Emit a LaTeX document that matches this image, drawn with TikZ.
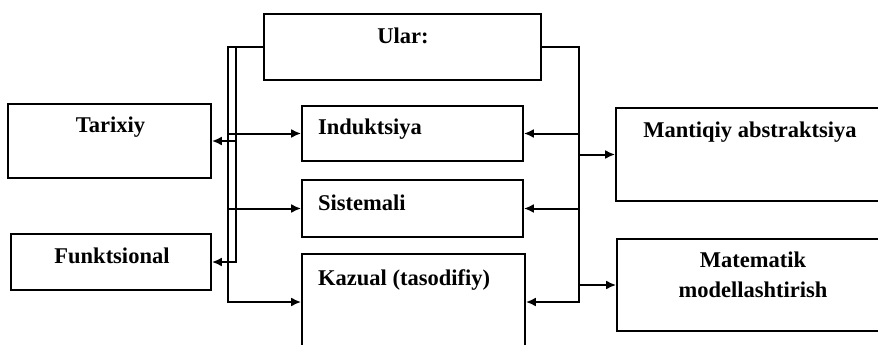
\documentclass[tikz,border=0pt]{standalone}
\usepackage{fontspec}
\setmainfont{Liberation Serif}
\usepackage{tikz}
\usetikzlibrary{arrows.meta, calc}

\begin{document}
\begin{tikzpicture}[x=1pt, y=-1pt,
	box/.style={draw, line width=1.7pt, rectangle, inner sep=0pt},
	txt/.style={font=\bfseries\fontsize{22.5}{30}\selectfont, inner sep=0pt, anchor=base},
	arr/.style={-{Latex[length=10pt, width=9pt]}, line width=2pt}]
	\useasboundingbox (0,0) rectangle (878,345);
	\clip (0,0) rectangle (878,345);

	% boxes
	\node[box, line width=1.2pt, minimum width=277pt, minimum height=66pt] (ular) at (402.5,47) {};
	\node[box, minimum width=203pt, minimum height=74pt] (tarixiy) at (109.5,141) {};
	\node[box, minimum width=200pt, minimum height=56pt] (funk) at (111,262) {};
	\node[box, minimum width=221pt, minimum height=55pt] (indukt) at (412.5,133.5) {};
	\node[box, minimum width=221pt, minimum height=57pt] (sistem) at (412.5,208.5) {};
	\node[box, minimum width=223pt, minimum height=96pt] (kazual) at (413.5,302) {};
	\node[box, minimum width=268pt, minimum height=93pt] (mantiq) at (750,154.5) {};
	\node[box, minimum width=267pt, minimum height=92pt] (matem) at (750.5,285) {};

	% texts
	\node[txt] (ulart) at (403,44) {Ular:};
	\node[txt] (tart) at (110.5,132) {Tarixiy};
	\node[txt] (funkt) at (112,263) {Funktsional};
	\node[txt, anchor=base west] (indt) at (318,134) {Induktsiya};
	\node[txt, anchor=base west] (sist) at (318,210) {Sistemali};
	\node[txt, anchor=base west] (kazt) at (318,285) {Kazual (tasodifiy)};
	\node[txt] (mant) at (750,137) {Mantiqiy abstraktsiya};
	\node[txt, anchor=center, align=center] (matt) at (753,275) {Matematik\\modellashtirish};

	% buses
	\path (ular.west) ++(-35,0) coordinate (lbus) ++(8,0) coordinate (lbus2);
	\path (ular.east) ++(37,0) coordinate (rbus);

	\draw[arr] (ular.west) -- (lbus) |- (kazual.west);
	\draw[arr] (lbus2) |- (funk.east);
	\draw[arr] (lbus2 |- tarixiy.east) -- (tarixiy.east);
	\foreach \n in {indukt, sistem}
		\draw[arr] (lbus |- \n.west) -- (\n.west);

	\draw[arr] (ular.east) -- (rbus) |- (kazual.east);
	\foreach \n in {indukt, sistem}
		\draw[arr] (rbus |- \n.east) -- (\n.east);
	\foreach \n in {mantiq, matem}
		\draw[arr] (rbus |- \n.west) -- (\n.west);

\end{tikzpicture}
\end{document}
